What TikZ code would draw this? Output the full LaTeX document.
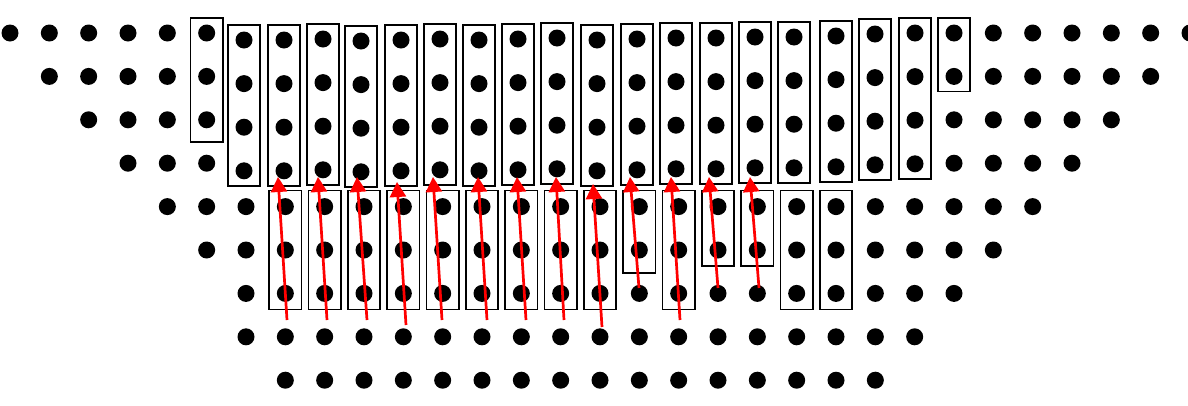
\documentclass[tikz,border=0pt]{standalone}
\usetikzlibrary{fit,arrows.meta}
\begin{document}
\begin{tikzpicture}[x=1pt,y=-1pt,
  dot/.style={circle,fill=black,draw=none,minimum size=17pt,inner sep=0pt},
  box/.style={draw=black,line width=1.7pt,rectangle,inner xsep=7.5pt,inner ysep=6.5pt},
  lowbox/.style={box,inner ysep=7.5pt},
  redarrow/.style={draw=red,line width=2.7pt,-{Triangle[width=16pt,length=15pt]}}]
\useasboundingbox (0,0) rectangle (1188,405);
% grid dots
\foreach \r/\a/\b in {0/0/5,0/24/30,1/1/5,1/24/29,2/2/5,2/24/28,3/3/5,3/24/27,4/4/26,5/5/25,6/6/24,7/6/23,8/7/22}{
  \foreach \c in {\a,...,\b}{
    \node[dot] (g-\r-\c) at ({10+118/3*\c},{33+43.4*\r}) {};
  }
}
% dots of the upper columns (slightly shifted)
\foreach \c/\x/\y in {6/244/40,7/284/40,8/323/39,9/361/41,10/401/40,11/440/39,12/479/40,13/518/39,14/557/38,15/597/40,16/637/39,17/676/38,18/716/38,19/755/37,20/794/37,21/836/36,22/875/34,23/915/33}{
  \foreach \r in {0,...,3}{
    \node[dot] (g-\r-\c) at (\x,{\y+43.6*\r}) {};
  }
}
% helper points for the two taller boxes
\coordinate (x-5) at ([yshift=-7pt]g-2-5.south);
\coordinate (x-16) at ([yshift=-7pt]g-5-16.south);
% upper boxes
\node[box,fit=(g-0-5)(x-5)] (tb-5) {};
\foreach \c in {6,...,23}{
  \node[box,fit=(g-0-\c)(g-3-\c)] (tb-\c) {};
}
\node[box,fit=(g-0-24)(g-1-24)] (tb-24) {};
% lower boxes
\foreach \c in {7,8,9,10,11,12,13,14,15,17,20,21}{
  \node[lowbox,fit=(g-4-\c)(g-6-\c)] (bb-\c) {};
}
\node[lowbox,fit=(g-4-16)(x-16)] (bb-16) {};
\foreach \c in {18,19}{
  \node[lowbox,fit=(g-4-\c)(g-5-\c)] (bb-\c) {};
}
% arrows
\foreach \i/\sx/\sy/\ex/\ey in {7/287/320/278/177,8/327/320/318/177,9/367/320/357/177,10/406/325/397/182,11/442/320/433/177,12/487/320/478/177,13/526/320/517/177,14/564/320/556/177,15/602/327/593/184,16/639/288/630/177,17/680/320/671/177,18/718/288/709/177,19/759/288/750/177}{
  \coordinate (s-\i) at (\sx,\sy);
  \coordinate (e-\i) at (\ex,\ey);
  \draw[redarrow] (s-\i) -- (e-\i);
}
\end{tikzpicture}
\end{document}
